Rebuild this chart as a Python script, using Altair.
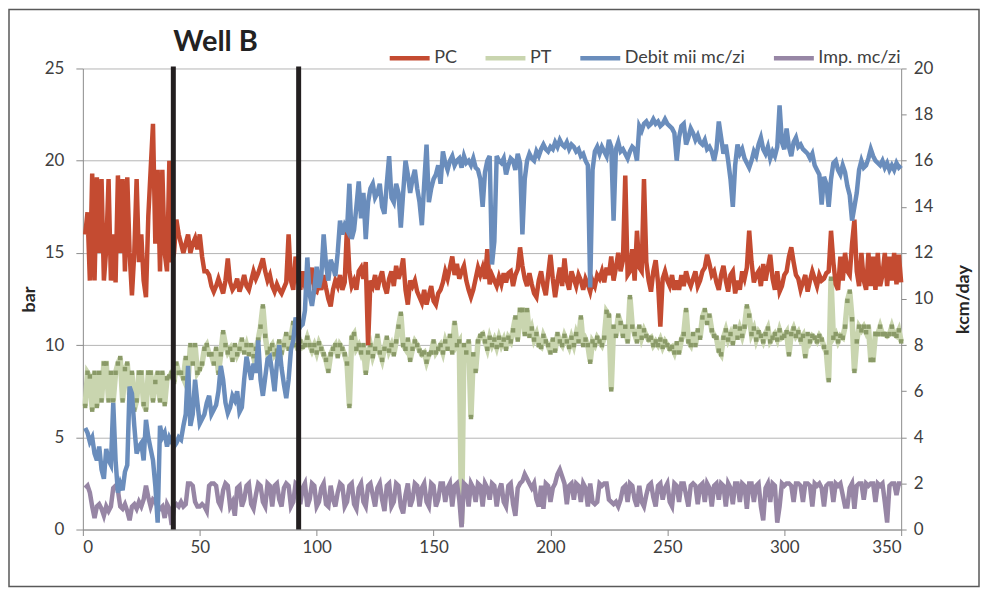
import altair as alt
import pandas as pd

days = list(range(1, 351))

pc = [
    16.0, 17.2, 13.5, 19.3, 13.5, 19.1, 15.0, 19.0, 13.5, 15.2,
    19.0, 13.5, 16.0, 13.4, 19.2, 15.0, 19.0, 14.0, 19.1, 15.0,
    12.7, 15.0, 19.0, 14.5, 16.0, 13.5, 12.6, 17.0, 19.5, 22.0,
    15.5, 19.5, 14.0, 19.5, 15.0, 14.0, 20.0, 14.5, 15.0, 16.8,
    16.0, 15.5, 15.0, 15.5, 16.0, 15.0, 15.5, 15.8, 15.2, 16.0,
    14.8, 14.0, 14.0, 13.8, 13.2, 12.9, 13.2, 13.6, 13.2, 12.8,
    13.5, 14.7, 13.4, 13.0, 13.2, 13.6, 12.9, 13.3, 13.8, 13.2,
    13.0, 13.5, 14.0, 13.6, 13.9, 14.3, 14.7, 14.0, 13.5, 13.8,
    13.2, 12.9, 13.3, 13.0, 12.8, 13.1, 13.4, 16.0, 13.5, 13.0,
    14.8, 13.5, 13.0, 14.0, 13.2, 12.8, 13.5, 14.2, 13.0, 12.9,
    13.4, 13.0, 13.8, 13.1, 12.5, 12.1, 13.0, 13.5, 13.2, 13.8,
    13.0, 13.4, 16.5, 14.0, 13.2, 13.5, 13.0, 14.0, 14.2, 13.6,
    14.5, 10.0, 13.5, 13.2, 13.8, 13.0, 13.6, 14.0, 13.2, 12.8,
    13.6, 14.0, 13.2, 14.3, 13.6, 14.0, 14.7, 13.0, 12.2, 13.5,
    13.2, 13.5, 12.9, 12.6, 12.3, 13.0, 12.2, 12.7, 13.2, 12.4,
    12.2, 12.8, 13.0, 13.4, 14.0, 13.6, 14.2, 14.8, 13.8, 14.4,
    13.6, 14.0, 14.3, 13.5, 13.0, 12.6, 13.0, 13.6, 14.2, 13.8,
    14.2, 13.6, 15.2, 13.3, 13.8, 13.5, 13.2, 13.7, 13.3, 13.9,
    13.4, 13.9, 14.0, 13.2, 13.8, 14.1, 15.3, 14.3, 13.6, 13.2,
    13.9, 13.3, 12.8, 12.6, 13.5, 14.0, 13.2, 12.7, 13.8, 14.9,
    13.6, 12.6, 13.5, 14.2, 13.2, 14.7, 13.5, 13.0, 14.0, 13.6,
    13.2, 13.8, 13.5, 13.0, 13.6, 13.3, 12.9, 13.5, 13.2, 13.8,
    13.6, 14.0, 13.4, 14.2, 13.8, 14.8, 13.5, 14.2, 15.0, 14.0,
    14.6, 19.2, 13.8, 14.0, 15.2, 13.5, 16.2, 14.2, 14.0, 19.0,
    14.5, 13.5, 12.9, 14.0, 14.6, 13.4, 11.0, 13.6, 14.0, 13.5,
    13.2, 13.8, 13.0, 13.5, 13.0, 13.8, 13.2, 14.0, 13.5, 13.2,
    13.6, 14.0, 13.2, 13.5, 14.0, 14.2, 14.9, 14.4, 13.8, 14.0,
    13.4, 13.0, 13.8, 14.3, 13.5, 12.9, 13.8, 14.0, 12.8, 13.5,
    13.0, 14.0, 13.6, 14.2, 16.2, 14.5, 13.4, 13.8, 14.0, 13.2,
    14.4, 13.5, 14.2, 14.9, 13.6, 13.0, 14.0, 12.9, 13.2, 13.8,
    14.0, 14.8, 15.3, 14.5, 13.8, 13.6, 13.0, 13.4, 13.8, 12.9,
    13.5, 14.0, 13.6, 13.2, 13.8, 13.5, 13.6, 13.9, 14.0, 16.2,
    14.5, 13.3, 13.0, 14.8, 13.5, 15.0, 14.0, 13.8, 15.5, 16.8,
    14.0, 13.2, 15.0, 13.5, 13.0, 15.0, 13.2, 14.8, 13.0, 15.0,
    13.2, 13.8, 15.0, 13.2, 14.8, 13.5, 15.0, 13.3, 14.9, 13.4,
]

pt = [
    6.7, 8.5, 8.3, 6.5, 8.5, 6.7, 8.5, 7.0, 9.0, 9.0,
    7.0, 8.5, 7.0, 8.5, 9.0, 9.3, 7.0, 8.7, 9.0, 7.3,
    8.5, 6.5, 7.0, 8.5, 8.5, 6.8, 6.5, 8.5, 8.5, 7.0,
    8.0, 8.5, 7.0, 8.5, 6.8, 8.2, 8.3, 8.5, 8.0, 9.0,
    8.5, 8.5, 8.2, 9.3, 8.0, 10.0, 9.0, 10.0, 8.5, 8.7,
    9.0, 9.8, 10.0, 9.5, 9.5, 9.0, 9.8, 8.5, 9.5, 10.7,
    10.0, 9.6, 9.8, 9.2, 10.0, 9.5, 9.8, 10.3, 9.6, 10.0,
    9.5, 10.0, 9.4, 9.8, 10.3, 11.0, 12.1, 10.5, 9.6, 9.8,
    10.0, 9.5, 9.7, 10.2, 9.6, 10.0, 10.6, 9.8, 10.4, 11.2,
    10.0, 9.8, 10.2, 9.9, 10.0, 10.4, 10.0, 9.7, 10.0, 9.6,
    10.1, 9.8, 9.5, 9.2, 8.6, 9.5, 9.8, 10.0, 9.4, 10.0,
    9.8, 9.5, 9.0, 6.7, 10.4, 10.6, 9.8, 10.0, 9.6, 10.0,
    8.5, 9.6, 10.0, 9.4, 9.8, 10.5, 9.6, 9.2, 9.8, 10.4,
    9.7, 10.0, 9.5, 10.2, 11.0, 11.7, 10.0, 9.8, 10.3, 9.2,
    9.8, 10.2, 10.0, 9.7, 9.5, 9.6, 9.1, 9.5, 9.6, 10.2,
    9.6, 9.8, 10.0, 9.6, 10.2, 9.8, 10.5, 9.6, 11.2, 10.0,
    10.2, 0.3, 10.0, 9.6, 10.2, 6.1, 9.5, 8.6, 10.2, 10.5,
    10.6, 10.2, 9.8, 10.4, 10.0, 10.3, 9.9, 10.4, 10.0, 10.3,
    9.8, 10.4, 10.2, 10.8, 11.5, 10.3, 11.9, 11.9, 10.6, 11.9,
    10.5, 10.9, 10.3, 10.6, 10.0, 9.9, 10.5, 10.2, 10.0, 9.6,
    10.3, 9.7, 10.6, 10.2, 10.0, 10.5, 10.2, 9.9, 10.4, 10.0,
    10.6, 10.2, 11.5, 10.0, 10.3, 10.0, 9.1, 10.2, 10.0, 10.4,
    10.2, 10.0, 10.4, 11.8, 11.6, 7.6, 11.0, 10.5, 11.6, 11.2,
    10.5, 11.0, 10.2, 12.6, 11.0, 10.6, 10.2, 11.0, 10.4, 10.8,
    10.5, 10.3, 10.4, 10.0, 10.2, 10.0, 10.3, 9.9, 10.2, 10.0,
    9.8, 9.9, 9.6, 10.1, 9.6, 10.3, 10.6, 11.9, 10.2, 10.0,
    10.6, 10.0, 10.8, 10.4, 11.5, 11.9, 11.2, 11.6, 10.8, 10.5,
    10.4, 9.7, 9.5, 10.4, 10.8, 10.3, 10.6, 10.1, 11.0, 10.4,
    10.9, 10.5, 11.0, 12.1, 11.6, 10.6, 10.9, 10.3, 10.7, 10.5,
    10.2, 10.6, 10.9, 10.2, 10.4, 10.6, 10.3, 10.8, 10.4, 10.5,
    10.7, 9.5, 10.6, 10.9, 10.5, 10.7, 10.3, 10.5, 9.4, 10.6,
    10.2, 10.5, 10.4, 10.2, 10.5, 10.3, 9.9, 9.6, 8.1, 13.6,
    10.4, 10.6, 10.2, 10.5, 10.4, 11.0, 12.4, 12.9, 11.4, 8.6,
    10.2, 11.0, 10.8, 11.0, 10.7, 11.0, 9.2, 9.2, 10.6, 10.6,
    11.0, 10.6, 10.6, 10.5, 10.6, 11.0, 10.6, 10.5, 10.8, 10.2,
]

debit = [
    4.4, 4.2, 3.8, 4.0, 3.3, 3.0, 3.6, 2.6, 2.2, 3.5,
    3.0, 2.8, 5.5, 3.0, 1.6, 2.0, 1.7, 2.5, 2.8, 6.2,
    5.9, 4.5, 3.3, 3.6, 3.75, 3.0, 4.76, 4.0, 3.5, 3.0,
    1.9, 0.3, 4.5, 4.0, 4.2, 3.6, 4.0, 3.8, 3.6, 3.75,
    4.0, 3.9, 4.5, 5.0, 7.1, 4.5, 5.0, 6.5, 5.5, 4.6,
    4.8, 5.0, 5.5, 5.8, 5.0, 5.2, 5.4, 6.0, 7.1, 6.5,
    5.5, 5.05, 5.3, 5.8, 5.6, 6.0, 5.1, 5.3, 6.5, 7.5,
    7.0, 6.5, 7.2, 6.8, 8.2, 6.5, 5.8, 6.6, 7.4, 7.5,
    6.8, 6.0, 7.2, 8.0, 7.0, 6.3, 5.7, 6.5, 7.8, 8.2,
    9.2, 8.6, 8.8, 8.9, 9.5, 11.8, 10.2, 9.7, 10.4, 11.4,
    10.5, 11.0, 12.8, 11.5, 10.8, 11.7, 11.4, 11.0, 12.0, 13.4,
    12.8, 13.2, 13.0, 15.0, 12.6, 13.0, 14.0, 15.1, 13.5, 14.6,
    12.6, 14.2, 14.8, 15.0, 14.4, 14.6, 15.0, 14.0, 13.7, 15.0,
    16.2, 14.4, 14.2, 15.0, 14.6, 13.1, 14.6, 16.0, 15.4, 14.6,
    15.2, 15.6, 14.8, 14.2, 13.2, 15.0, 16.7, 14.2, 14.8, 15.2,
    15.4, 15.8, 15.0, 16.4, 15.9, 15.6, 16.0, 16.2, 15.8, 16.0,
    16.1, 15.7, 16.2, 15.9, 16.0, 15.8, 16.1, 15.7, 15.6, 15.2,
    14.0, 15.5, 16.0, 16.2, 11.5, 12.5, 16.2, 16.0, 15.9, 16.1,
    15.4, 15.8, 16.1, 16.0, 15.6, 16.3, 15.9, 12.8, 15.2, 16.0,
    16.3, 16.1, 16.0, 16.4, 16.2, 16.5, 16.7, 16.5, 16.4, 16.6,
    16.5, 16.8, 16.6, 16.9, 16.7, 16.6, 16.8, 16.5, 16.7, 16.6,
    16.4, 16.5, 16.2, 16.3, 16.0, 15.8, 10.5, 15.6, 16.4, 16.6,
    16.3, 16.6, 16.4, 16.2, 16.9, 16.6, 13.4, 16.5, 16.8, 16.4,
    16.5, 16.3, 16.1, 16.4, 16.6, 16.5, 16.0, 17.5, 17.3, 17.6,
    17.7, 17.5, 17.6, 17.8, 17.6, 17.7, 17.5, 17.6, 17.8, 17.6,
    17.5, 17.4, 17.2, 16.0, 17.0, 17.5, 17.6, 16.7, 17.0, 17.4,
    17.2, 16.9, 17.1, 16.8, 16.7, 16.9, 16.5, 16.6, 16.4, 16.0,
    16.5, 17.7, 17.0, 16.3, 16.7, 16.0, 15.2, 14.0, 15.8, 16.7,
    16.3, 16.5, 16.1, 15.9, 15.7, 16.0, 16.4, 16.2, 16.7, 17.0,
    16.5, 16.3, 16.6, 16.1, 16.4, 16.2, 16.6, 18.4, 16.8, 16.5,
    17.4, 16.6, 16.2, 16.8, 17.0, 16.6, 16.7, 16.5, 16.4, 16.3,
    16.1, 16.3, 15.8, 15.6, 15.4, 14.1, 15.3, 15.0, 14.0, 15.2,
    15.9, 16.0, 15.6, 15.4, 15.8, 15.5, 14.9, 14.5, 13.4, 14.0,
    14.6, 15.6, 16.0, 15.7, 15.8, 16.1, 16.5, 16.2, 16.0, 15.9,
    15.8, 16.0, 15.7, 15.9, 15.6, 15.8, 15.6, 15.9, 15.7, 15.8,
]

imp = [
    1.8, 1.9, 1.6, 1.0, 0.5, 1.0, 1.1, 0.9, 0.6, 1.0,
    0.8, 1.0, 1.8, 1.9, 1.7, 1.0, 0.9, 1.1, 0.8, 0.4,
    1.0, 1.1, 0.9, 1.2, 1.0, 1.3, 1.9, 1.4, 1.0, 1.3,
    1.2, 1.0, 0.9, 1.0, 0.5, 1.1, 0.9, 0.2, 1.0, 1.1,
    1.0, 1.2, 1.0, 1.1, 2.0, 2.0, 1.9, 1.2, 1.0, 1.0,
    1.1, 1.0, 0.8, 1.9, 2.0, 2.0, 1.9, 1.2, 1.0, 1.7,
    2.0, 1.9, 1.0, 1.2, 0.6, 1.8, 1.9, 1.0, 1.3, 1.9,
    2.0, 1.1, 0.9, 1.5, 2.0, 1.9, 1.2, 1.0, 2.0, 1.9,
    1.0, 1.9, 2.0, 1.3, 1.0, 1.8, 2.0, 1.9, 1.0, 1.2,
    2.0, 1.9, 1.1, 1.8, 2.0, 1.0, 1.3, 2.0, 1.9, 1.0,
    1.2, 1.8, 2.0, 1.1, 1.0, 1.9, 1.3, 1.0, 1.6, 2.0,
    1.9, 1.0, 1.2, 1.9, 2.0, 1.1, 0.9, 1.8, 2.0, 1.2,
    1.0, 1.9, 2.0, 1.5, 1.0, 1.8, 2.0, 1.3, 0.8, 1.9,
    2.0, 1.0, 1.2, 2.0, 1.9, 1.0, 0.7, 1.5, 2.0, 1.0,
    1.3, 2.0, 1.9, 1.0, 1.8, 2.0, 1.2, 1.0, 2.0, 1.9,
    1.0, 1.3, 2.0, 2.0, 1.2, 1.8, 2.0, 1.0, 1.9, 2.0,
    1.3, 0.1, 2.0, 1.9, 1.0, 2.0, 1.8, 1.2, 2.0, 1.9,
    1.0, 2.0, 1.8, 1.3, 2.0, 1.9, 1.0, 1.7, 2.0, 1.2,
    1.0, 1.9, 2.0, 1.1, 0.6, 1.8, 2.0, 2.1, 2.4, 2.2,
    2.0, 1.8, 2.0, 1.3, 1.0, 1.9, 0.9, 2.0, 1.9, 1.2,
    1.8, 2.0, 2.4, 2.6, 2.3, 2.0, 1.1, 1.9, 2.0, 1.3,
    2.0, 1.9, 1.2, 2.0, 1.8, 1.0, 2.0, 1.2, 1.1, 1.2,
    2.0, 1.9, 2.0, 2.0, 1.3, 1.2, 1.1, 1.2, 1.0, 1.3,
    1.8, 1.9, 1.2, 2.0, 1.9, 1.3, 1.0, 1.9, 1.2, 1.0,
    1.5, 1.9, 2.0, 1.4, 1.0, 1.9, 2.0, 1.3, 1.8, 2.0,
    1.2, 1.0, 2.0, 1.9, 1.2, 2.0, 2.0, 1.5, 1.0, 1.9,
    2.0, 1.9, 1.1, 1.9, 2.0, 1.2, 2.0, 1.8, 1.0, 1.9,
    2.0, 1.3, 2.0, 1.9, 1.0, 2.0, 1.8, 1.1, 2.0, 2.0,
    1.2, 2.0, 1.9, 0.9, 2.0, 2.0, 1.2, 1.9, 2.0, 1.0,
    0.4, 1.8, 2.0, 1.2, 2.0, 1.9, 0.3, 1.0, 2.0, 1.9,
    2.0, 2.0, 1.9, 1.2, 2.0, 2.0, 1.9, 1.2, 2.0, 2.0,
    1.9, 1.0, 2.0, 1.9, 2.0, 1.8, 1.0, 1.9, 2.0, 2.0,
    1.2, 2.0, 1.9, 2.0, 1.5, 1.0, 1.0, 1.8, 2.0, 0.9,
    1.9, 2.0, 2.0, 1.3, 2.0, 1.9, 2.0, 2.0, 1.2, 2.0,
    1.9, 2.0, 1.2, 0.3, 1.9, 2.0, 2.0, 1.5, 2.0, 2.0,
]

series_names = ["PC", "PT", "Debit mii mc/zi", "Imp. mc/zi"]
series_colors = ["#C44B31", "#C9D5AF", "#6A8DBC", "#9786A5"]
marker_line_days = [38.7, 92.3]
chart_title = "Well B"
left_ticks = [0, 5, 10, 15, 20, 25]
right_ticks = [0, 2, 4, 6, 8, 10, 12, 14, 16, 18, 20]
x_ticks = [0, 50, 100, 150, 200, 250, 300, 350]

FONT = "Lato"
n = len(days)
left_df = pd.DataFrame({
    "day": days * 2,
    "value": pc + pt,
    "series": ["PC"] * n + ["PT"] * n,
})
right_df = pd.DataFrame({
    "day": days * 2,
    "value": debit + imp,
    "series": ["Debit mii mc/zi"] * n + ["Imp. mc/zi"] * n,
})
rules_df = pd.DataFrame({"day": marker_line_days})
one_df = pd.DataFrame({"a": [0]})

x_enc = alt.X(
    "day:Q",
    scale=alt.Scale(domain=[0, 350], nice=False, zero=False),
    axis=alt.Axis(values=x_ticks, grid=False, title=None, tickSize=6,
                  labelPadding=4, domainColor="#8c8c8c", tickColor="#8c8c8c",
                  labelFontSize=17),
)

legend = alt.Legend(
    title=None, orient="none", legendX=305, legendY=-33, direction="horizontal",
    symbolType="stroke", symbolSize=1600, symbolStrokeWidth=4.5,
    labelFontSize=18, labelFont=FONT, labelColor="#404040",
    columnPadding=19, labelOffset=2, padding=0,
)
color_enc = alt.Color("series:N",
                      scale=alt.Scale(domain=series_names, range=series_colors),
                      legend=legend, sort=series_names)

y_left = alt.Y(
    "value:Q",
    scale=alt.Scale(domain=[0, 25], nice=False),
    axis=alt.Axis(orient="left", values=left_ticks, title="bar", grid=True,
                  gridColor="#b5b5b5", tickSize=7, tickColor="#8c8c8c",
                  domainColor="#8c8c8c", labelPadding=12, titlePadding=6,
                  titleFontWeight="bold", labelFontSize=17),
)
y_right = alt.Y(
    "value:Q",
    scale=alt.Scale(domain=[0, 20], nice=False),
    axis=alt.Axis(orient="right", values=right_ticks, title="kcm/day", grid=False,
                  tickSize=5, tickColor="#8c8c8c", domainColor="#8c8c8c",
                  labelPadding=7, titlePadding=40, titleAngle=270,
                  titleFontWeight="bold", labelFontSize=17),
)

base_left = alt.Chart(left_df)
pt_line = base_left.mark_line(strokeWidth=5.5).encode(
    x=x_enc, y=y_left, color=color_enc).transform_filter(alt.datum.series == "PT")
pt_pts = base_left.mark_square(size=20, color="#8A9A68", opacity=1).encode(
    x="day:Q", y="value:Q").transform_filter(alt.datum.series == "PT")
pc_line = base_left.mark_line(strokeWidth=4.5).encode(
    x=x_enc, y=y_left, color=color_enc).transform_filter(alt.datum.series == "PC")
left = alt.layer(pt_line, pt_pts, pc_line)

base_right = alt.Chart(right_df)
imp_line = base_right.mark_line(strokeWidth=4.5).encode(
    x=x_enc, y=y_right, color=color_enc).transform_filter(alt.datum.series == "Imp. mc/zi")
deb_line = base_right.mark_line(strokeWidth=4.5).encode(
    x=x_enc, y=y_right, color=color_enc).transform_filter(alt.datum.series == "Debit mii mc/zi")
right = alt.layer(imp_line, deb_line)

rules = alt.Chart(rules_df).mark_rule(strokeWidth=5, color="#231F20").encode(
    x="day:Q", y=alt.value(-2), y2=alt.value(462))

frame = alt.Chart(one_df).mark_rect(fillOpacity=0, stroke="#595959", strokeWidth=1.5).encode(
    x=alt.value(-74), x2=alt.value(898), y=alt.value(-59), y2=alt.value(519))

title = alt.Chart(one_df).mark_text(
    text=chart_title, font=FONT, fontSize=29, fontWeight="bold", color="#222222",
    align="center", baseline="middle").encode(x=alt.value(133), y=alt.value(-27))

chart = alt.layer(frame, left, right, rules, title).resolve_scale(
    y="independent"
).properties(
    width=820, height=462,
    padding={"left": 75, "top": 60, "right": 81, "bottom": 60},
    autosize=alt.AutoSizeParams(type="none"),
).configure_view(stroke=None).configure_axis(
    labelFont=FONT, titleFont=FONT, labelColor="#404040", titleColor="#262626",
    titleFontSize=18,
)

chart.save("out.html", embed_options={"renderer": "svg", "actions": False})
